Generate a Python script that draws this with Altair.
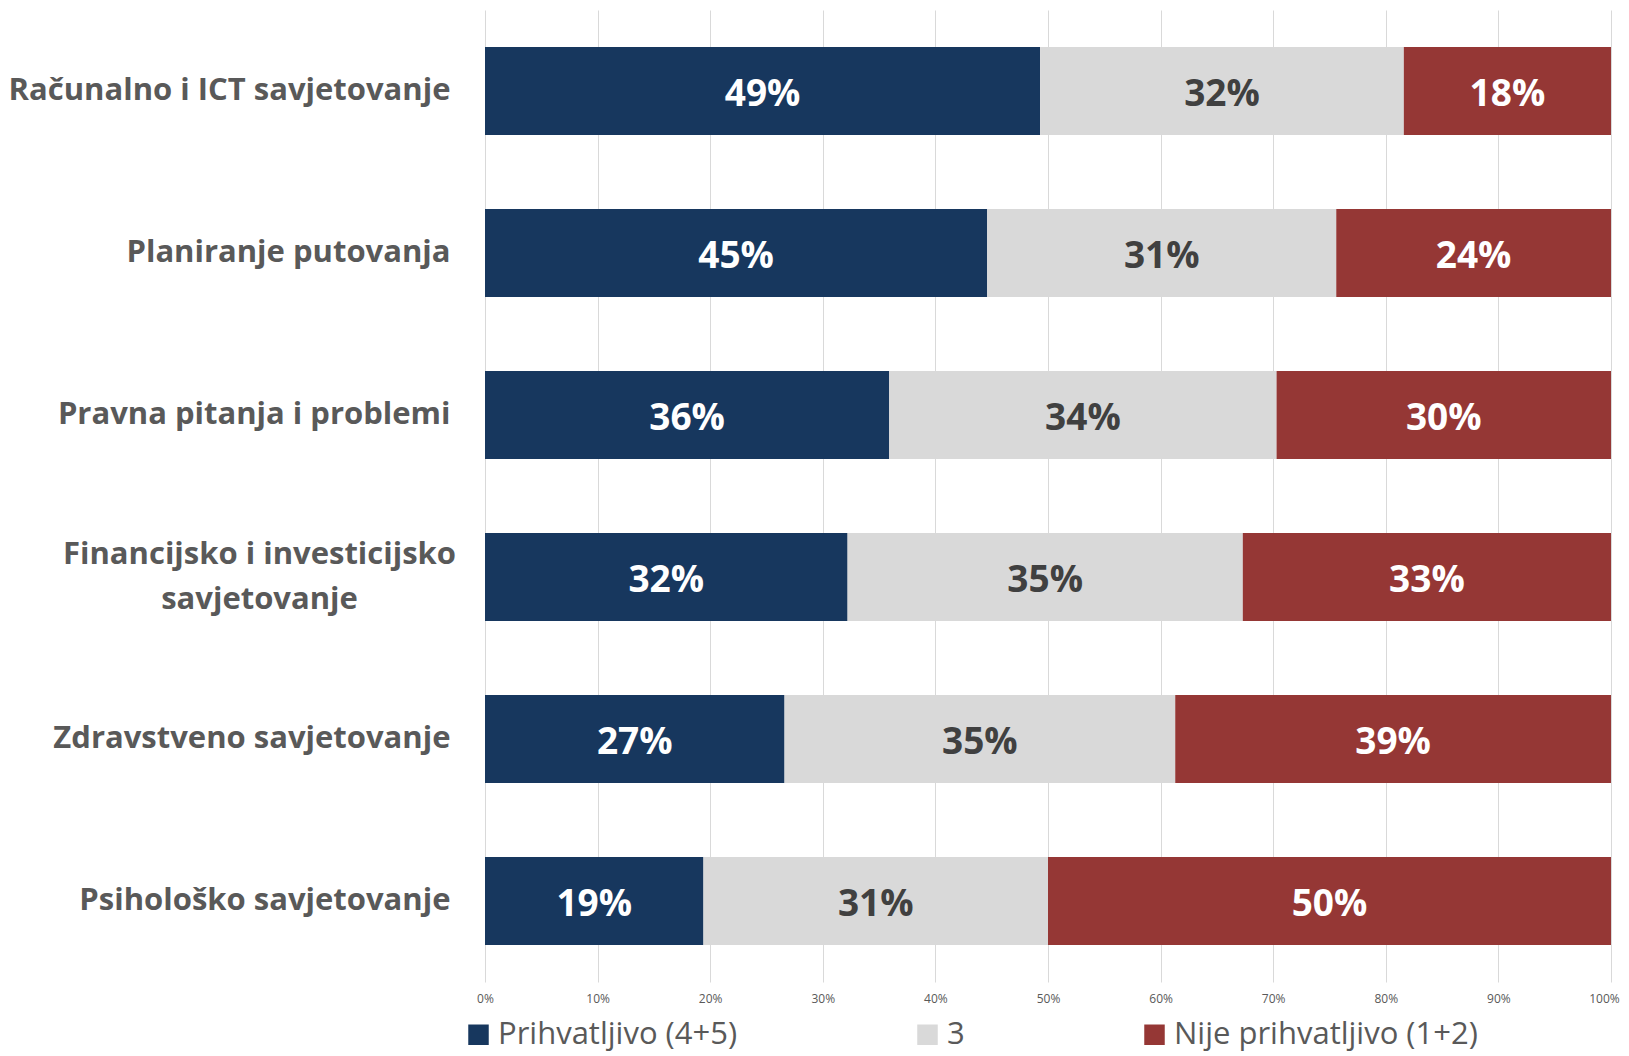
import altair as alt
import pandas as pd

categories = [
    "Računalno i ICT savjetovanje",
    "Planiranje putovanja",
    "Pravna pitanja i problemi",
    "Financijsko i investicijsko savjetovanje",
    "Zdravstveno savjetovanje",
    "Psihološko savjetovanje",
]
series_names = ["Prihvatljivo (4+5)", "3", "Nije prihvatljivo (1+2)"]
prihvatljivo = [0.493, 0.446, 0.359, 0.322, 0.266, 0.194]
neutralno = [0.323, 0.310, 0.344, 0.351, 0.347, 0.306]
nije = [0.184, 0.244, 0.297, 0.327, 0.387, 0.500]
colors = ["#17375E", "#D9D9D9", "#953735"]

rows = []
for ci, cat in enumerate(categories):
    for si, (name, vals) in enumerate(zip(series_names, [prihvatljivo, neutralno, nije])):
        v = vals[ci]
        rows.append({"category": cat, "series": name, "idx": si, "value": v,
                     "label": f"{round(v * 100)}%"})
df = pd.DataFrame(rows)

FONT = "Open Sans"
two_line = "Financijsko i investicijsko savjetovanje"
is_two = f"datum.value == '{two_line}'"

base = alt.Chart(df).transform_stack(
    stack="value", groupby=["category"], as_=["start", "end"],
    sort=[alt.SortField("idx", order="ascending")]
).transform_calculate(mid="(datum.start + datum.end) / 2")

y_enc = alt.Y(
    "category:N", sort=categories, title=None,
    scale=alt.Scale(paddingInner=0.457, paddingOuter=0.2285),
    axis=alt.Axis(
        ticks=False, domain=False, grid=False,
        labelFont=FONT, labelFontSize=31, labelFontWeight="bold", labelColor="#595959",
        labelLimit=700, labelLineHeight=45,
        labelExpr=f"datum.label == '{two_line}' ? ['Financijsko i investicijsko', 'savjetovanje'] : datum.label",
        labelAlign={"condition": {"test": is_two, "value": "center"}, "value": "right"},
        labelPadding={"condition": {"test": is_two, "value": 226}, "value": 35},
        labelOffset={"condition": {"test": is_two, "value": -22}, "value": 0},
    ),
)

bars = base.mark_bar().encode(
    y=y_enc,
    x=alt.X("start:Q", scale=alt.Scale(domain=[0, 1], nice=False), title=None,
            axis=alt.Axis(values=[i / 10 for i in range(11)], format=".0%",
                          labelFont=FONT, labelFontSize=12, labelColor="#595959",
                          labelFlush=False,
                          labelOffset={"condition": {"test": "datum.value >= 1", "value": -7}, "value": 0},
                          ticks=False, domain=False, labelPadding=11,
                          grid=True, gridColor="#D9D9D9", gridWidth=1)),
    x2="end:Q",
    color=alt.Color("series:N", sort=series_names,
                    scale=alt.Scale(domain=series_names, range=colors),
                    legend=alt.Legend(title=None, orient="none", direction="horizontal",
                                      legendX=-22, legendY=1009,
                                      symbolType="square", symbolSize=420, symbolStrokeWidth=0,
                                      labelFont=FONT, labelFontSize=31, labelColor="#595959",
                                      labelOffset=4, columnPadding=174, padding=0,
                                      labelLimit=500)),
)

texts = base.mark_text(font=FONT, fontSize=37, fontWeight="bold", baseline="middle", dy=4).encode(
    y=alt.Y("category:N", sort=categories),
    x=alt.X("mid:Q"),
    text="label:N",
    color=alt.condition(alt.datum.series == "3", alt.value("#404040"), alt.value("white")),
)

chart = alt.layer(bars, texts).properties(
    width=1126, height=972, background="white",
    padding={"left": 0, "top": 2, "right": 0, "bottom": 2},
).configure_view(stroke="transparent", strokeWidth=0).configure_axisY(grid=False)

chart.save("out.html", embed_options={"renderer": "svg", "actions": False})
